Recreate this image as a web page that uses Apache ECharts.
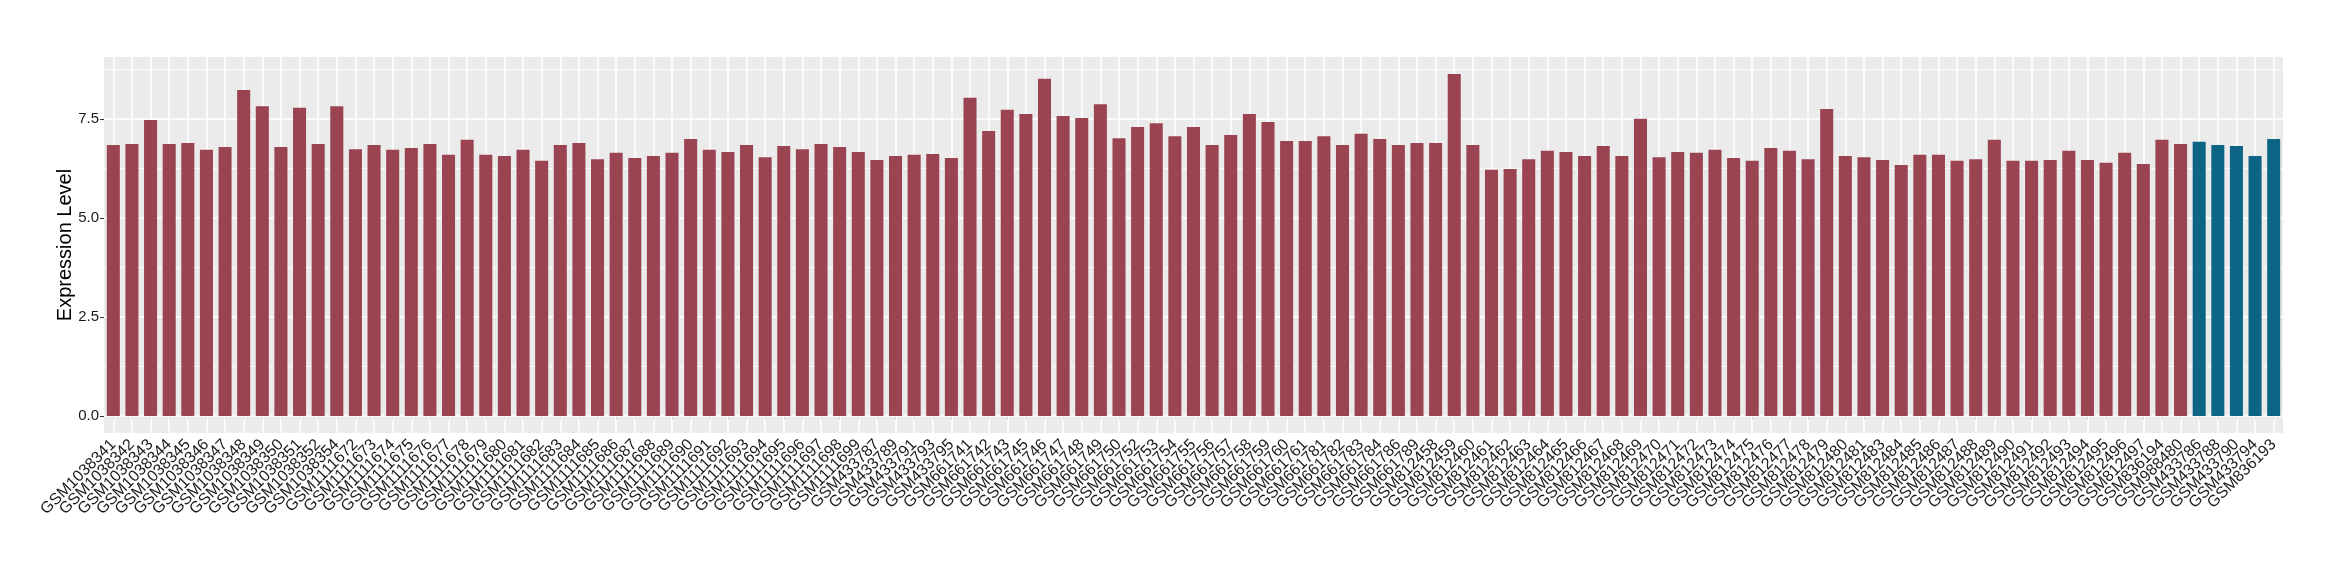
<!DOCTYPE html>
<html>
<head>
<meta charset="utf-8">
<title>Expression Level</title>
<script src="https://cdn.jsdelivr.net/npm/echarts@6/dist/echarts.min.js"></script>
<style>
  html, body { margin: 0; padding: 0; background: #fff; }
  #chart { width: 2340px; height: 580px; }
</style>
</head>
<body>
<div id="chart"></div>
<script>
// sample ids, left to right
const samples = [
  'GSM1038341', 'GSM1038342', 'GSM1038343', 'GSM1038344', 'GSM1038345', 'GSM1038346', 'GSM1038347',
  'GSM1038348', 'GSM1038349', 'GSM1038350', 'GSM1038351', 'GSM1038352', 'GSM1038354',
  'GSM1111672', 'GSM1111673', 'GSM1111674', 'GSM1111675', 'GSM1111676', 'GSM1111677', 'GSM1111678',
  'GSM1111679', 'GSM1111680', 'GSM1111681', 'GSM1111682', 'GSM1111683', 'GSM1111684', 'GSM1111685',
  'GSM1111686', 'GSM1111687', 'GSM1111688', 'GSM1111689', 'GSM1111690', 'GSM1111691', 'GSM1111692',
  'GSM1111693', 'GSM1111694', 'GSM1111695', 'GSM1111696', 'GSM1111697', 'GSM1111698', 'GSM1111699',
  'GSM433787', 'GSM433789', 'GSM433791', 'GSM433793', 'GSM433795',
  'GSM661741', 'GSM661742', 'GSM661743', 'GSM661745', 'GSM661746', 'GSM661747', 'GSM661748',
  'GSM661749', 'GSM661750', 'GSM661752', 'GSM661753', 'GSM661754', 'GSM661755', 'GSM661756',
  'GSM661757', 'GSM661758', 'GSM661759', 'GSM661760', 'GSM661761', 'GSM661781', 'GSM661782',
  'GSM661783', 'GSM661784', 'GSM661786', 'GSM661789',
  'GSM812458', 'GSM812459', 'GSM812460', 'GSM812461', 'GSM812462', 'GSM812463', 'GSM812464',
  'GSM812465', 'GSM812466', 'GSM812467', 'GSM812468', 'GSM812469', 'GSM812470', 'GSM812471',
  'GSM812472', 'GSM812473', 'GSM812474', 'GSM812475', 'GSM812476', 'GSM812477', 'GSM812478',
  'GSM812479', 'GSM812480', 'GSM812481', 'GSM812483', 'GSM812484', 'GSM812485', 'GSM812486',
  'GSM812487', 'GSM812488', 'GSM812489', 'GSM812490', 'GSM812491', 'GSM812492', 'GSM812493',
  'GSM812494', 'GSM812495', 'GSM812496', 'GSM812497',
  'GSM836194', 'GSM988480', 'GSM433786', 'GSM433788', 'GSM433790', 'GSM433794', 'GSM836193'
]

// expression level per sample (same order)
const expression = [
  6.85, 6.87, 7.48, 6.87, 6.90, 6.73, 6.80, 8.24, 7.83, 6.80, 7.79, 6.87, 7.83,
  6.74, 6.85, 6.73, 6.77, 6.87, 6.60, 6.98, 6.60, 6.57, 6.73, 6.45, 6.85, 6.90, 6.49,
  6.65, 6.52, 6.57, 6.65, 7.00, 6.73, 6.67, 6.85, 6.54, 6.82, 6.74, 6.87, 6.80, 6.67,
  6.47, 6.57, 6.60, 6.62, 6.52,
  8.04, 7.20, 7.74, 7.63, 8.52, 7.58, 7.53, 7.88, 7.02, 7.30, 7.40, 7.07, 7.30, 6.85,
  7.10, 7.63, 7.43, 6.95, 6.95, 7.07, 6.85, 7.13, 7.00, 6.85, 6.90,
  6.90, 8.64, 6.85, 6.22, 6.24, 6.49, 6.70, 6.67, 6.57, 6.82, 6.57, 7.51, 6.54, 6.67,
  6.65, 6.73, 6.52, 6.45, 6.77, 6.70, 6.49, 7.76, 6.57, 6.54, 6.47, 6.34, 6.60, 6.60,
  6.45, 6.49, 6.98, 6.45, 6.45, 6.47, 6.70, 6.47, 6.40, 6.65, 6.37,
  6.98, 6.87, 6.93, 6.85, 6.82, 6.57, 7.00
]

// samples drawn in the second (blue) group
const blueSamples = ['GSM433786', 'GSM433788', 'GSM433790', 'GSM433794', 'GSM836193']

// y axis ticks
const majorTicks = [0, 2.5, 5, 7.5]
const minorTicks = [1.25, 3.75, 6.25, 8.75]

const RED = '#9A4351'
const BLUE = '#0D6586'

const myChart = echarts.init(document.getElementById('chart'))

const barData = samples.map((s, i) => ({
  value: expression[i],
  itemStyle: { color: blueSamples.includes(s) ? BLUE : RED },
}))

// white panel grid like ggplot, kept under the bars
const gridLines = [
  ...samples.map(s => ({ xAxis: s, lineStyle: { width: 1.6 } })),
  ...majorTicks.map(v => ({ yAxis: v, lineStyle: { width: 1.6 } })),
  ...minorTicks.map(v => ({ yAxis: v, lineStyle: { width: 0.8 } })),
]

const option = {
  backgroundColor: '#fff',
  animation: false,
  textStyle: { fontFamily: '"Liberation Sans", Arial, sans-serif' },
  grid: {
    left: 104,
    right: 57,
    top: 57,
    bottom: 147,
    show: true,
    backgroundColor: '#EBEBEB',
    borderWidth: 0,
  },
  xAxis: {
    type: 'category',
    data: samples,
    boundaryGap: true,
    axisLine: { show: false },
    axisTick: {
      show: true,
      alignWithLabel: true,
      length: 4,
      lineStyle: { color: '#333', width: 1 },
    },
    axisLabel: {
      interval: 0,
      rotate: 45,
      margin: 9,
      fontSize: 16,
      color: '#1a1a1a',
    },
    splitLine: { show: false },
  },
  yAxis: {
    type: 'value',
    min: -0.432,
    max: 9.072,
    name: 'Expression Level',
    nameLocation: 'middle',
    nameGap: 29,
    nameMoveOverlap: false,
    nameTextStyle: { fontSize: 20, color: '#000' },
    axisLine: { show: false },
    axisTick: {
      show: true,
      length: 4,
      customValues: majorTicks,
      lineStyle: { color: '#333', width: 1 },
    },
    axisLabel: {
      customValues: majorTicks,
      fontSize: 15,
      color: '#1a1a1a',
      margin: 5,
      formatter: v => v.toFixed(1),
    },
    splitLine: { show: false },
    minorSplitLine: { show: false },
  },
  series: [
    {
      name: 'grid',
      type: 'line',
      data: [],
      z: 1,
      silent: true,
      markLine: {
        silent: true,
        z: 1,
        symbol: 'none',
        label: { show: false },
        lineStyle: { color: '#fff', type: 'solid' },
        emphasis: { disabled: true },
        data: gridLines,
      },
    },
    {
      name: 'Expression',
      type: 'bar',
      z: 3,
      barWidth: '70%',
      data: barData,
    },
  ],
}

myChart.setOption(option)
</script>
</body>
</html>
